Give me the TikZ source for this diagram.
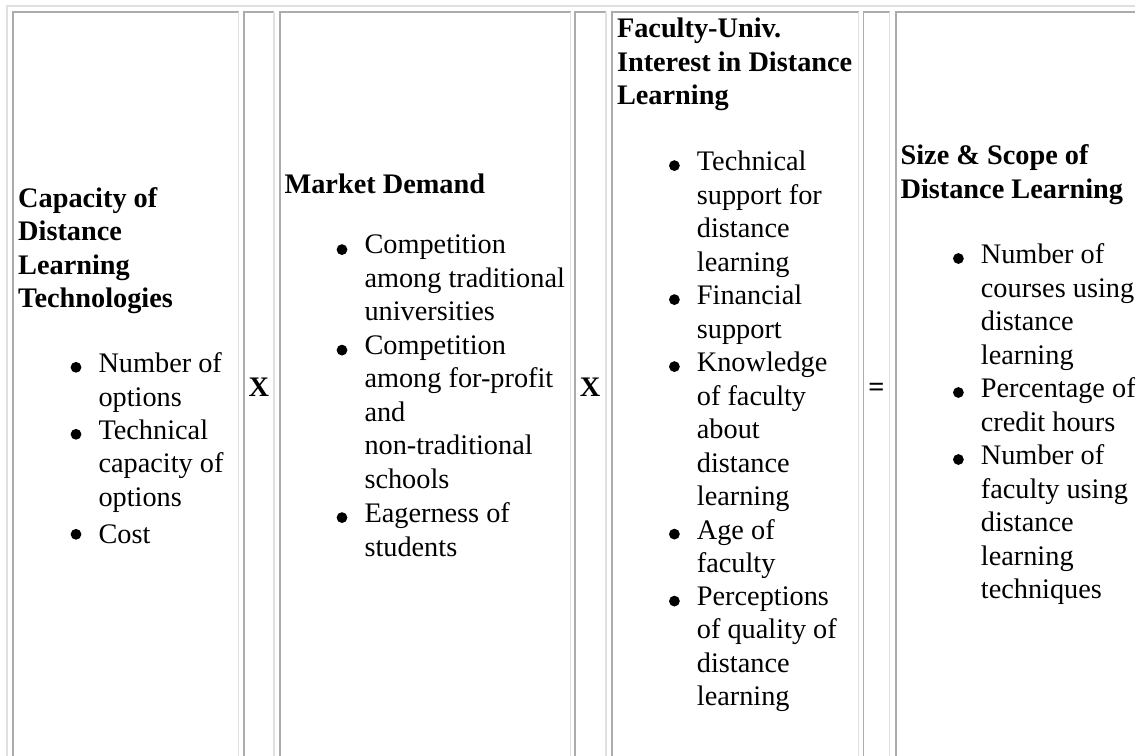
\documentclass[tikz,border=0pt]{standalone}
\usepackage{fontspec}
\setmainfont{Liberation Serif}
\usepackage{tikz}

\definecolor{borderLight}{RGB}{224,224,224}
\definecolor{borderDark}{RGB}{172,172,172}

\tikzset{
	cell text/.style = {anchor = north west, inner sep = 0pt, align = left, yshift = 23.45pt, execute at begin node = \strut, font = \fontsize{28.3}{33.5}\selectfont},
	head/.style = {cell text, font = \fontsize{28.3}{33.5}\selectfont\bfseries},
	item/.style = {cell text},
	light edge/.style = {borderLight, line width = 1.8pt},
	dark edge/.style = {borderDark, line width = 1.8pt}
}

\newcommand{\bulletdot}[2]{\fill (#1 - 22.3, #2 - 8.7) circle (5.4);}

\begin{document}
\begin{tikzpicture}[x = 1pt, y = -1pt]
	\useasboundingbox (0, 0) rectangle (1135, 755);
	\clip (0, 0) rectangle (1135, 755);
	\fill[white] (0, 0) rectangle (1135, 755);
	
	% outer table frame
	\draw[light edge] (7.3, 800) -- (7.3, 6.2) -- (1200, 6.2);
	
	% cells
	\foreach \l/\r in {13.3/238.5, 243.7/274, 279.7/570.5, 575/606, 611.7/858.5, 863.5/889.5, 895.7/1180}
	{
		\draw[dark edge] (\l, 800) -- (\l, 12.3) -- (\r, 12.3);
		\draw[light edge] (\r, 12.3) -- (\r, 800);
	}
	
	% capacity
	\node[head] (capacity) at (18, 210.7) {Capacity of\\Distance\\Learning\\Technologies};
	\node[item] (options) at (98.3, 376) {Number of\\options};
	\node[item] (techcap) at (98.3, 443) {Technical\\capacity of\\options};
	\node[item] (cost) at (98.3, 543) {Cost};
	\bulletdot{98.3}{376}
	\bulletdot{98.3}{443}
	\bulletdot{98.3}{543}
	
	\node[head] (times1) at (248.3, 396) {X};
	
	% market demand
	\node[head] (market) at (284.4, 193) {Market Demand};
	\node[item] (tradunis) at (364.3, 258.3) {Competition\\among traditional\\universities};
	\node[item] (forprofit) at (364.3, 358.8) {Competition\\among for-profit\\and\\non-traditional\\schools};
	\node[item] (eager) at (364.3, 526.3) {Eagerness of\\students};
	\bulletdot{364.3}{258.3}
	\bulletdot{364.3}{358.8}
	\bulletdot{364.3}{526.3}
	
	\node[head] (times2) at (579.7, 396) {X};
	
	% faculty interest
	\node[head] (interest) at (616.8, 41.6) {Faculty-Univ.\\Interest in Distance\\Learning};
	\node[item] (techsup) at (696.7, 174.3) {Technical\\support for\\distance\\learning};
	\node[item] (finsup) at (696.7, 308.3) {Financial\\support};
	\node[item] (knowledge) at (696.7, 375.3) {Knowledge\\of faculty\\about\\distance\\learning};
	\node[item] (age) at (696.7, 542.8) {Age of\\faculty};
	\node[item] (quality) at (696.7, 609.8) {Perceptions\\of quality of\\distance\\learning};
	\bulletdot{696.7}{174.3}
	\bulletdot{696.7}{308.3}
	\bulletdot{696.7}{375.3}
	\bulletdot{696.7}{542.8}
	\bulletdot{696.7}{609.8}
	
	\node[head] (equals) at (868.2, 396) {=};
	
	% size and scope
	\node[head] (scope) at (900.4, 168) {Size \& Scope of\\Distance Learning};
	\node[item] (courses) at (980.7, 267.2) {Number of\\courses using\\distance\\learning};
	\node[item] (credits) at (980.7, 401.2) {Percentage of\\credit hours};
	\node[item] (faculty) at (980.7, 468.2) {Number of\\faculty using\\distance\\learning\\techniques};
	\bulletdot{980.7}{267.2}
	\bulletdot{980.7}{401.2}
	\bulletdot{980.7}{468.2}
\end{tikzpicture}
\end{document}
